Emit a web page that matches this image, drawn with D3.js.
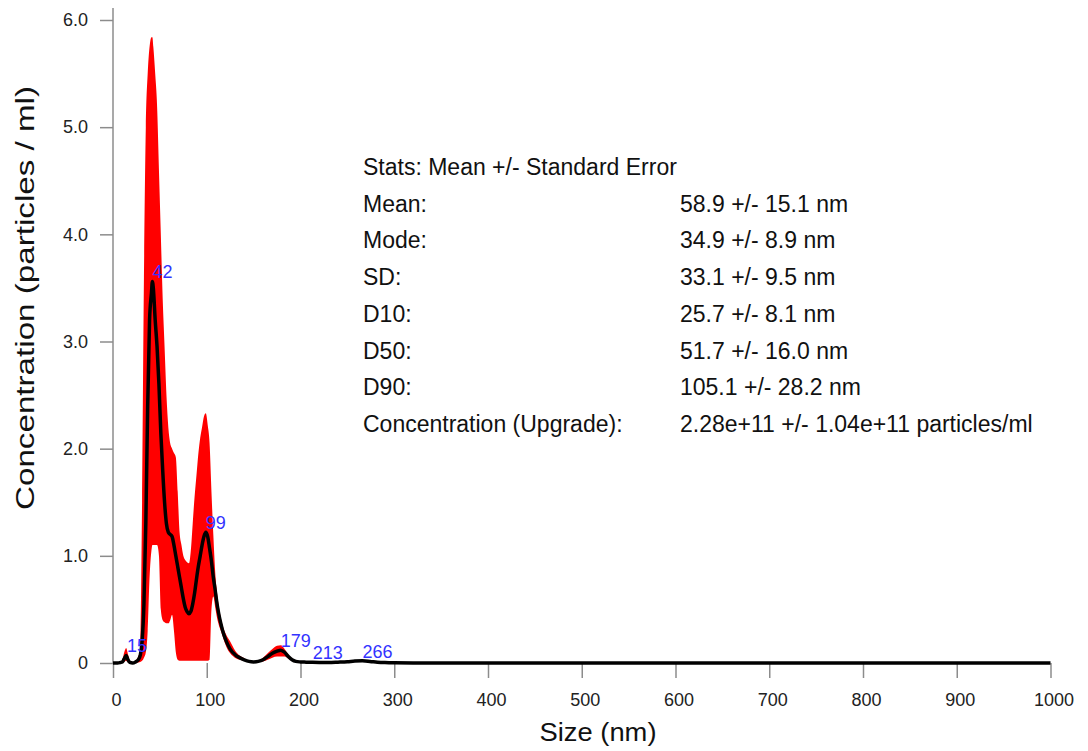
<!DOCTYPE html>
<html>
<head>
<meta charset="utf-8">
<style>
  body { margin: 0; background: #fff; }
  text { font-family: "Liberation Sans", Arial, Helvetica, sans-serif; }
</style>
</head>
<body>
<div id="chart"></div>
<script src="https://d3js.org/d3.v7.min.js"></script>
<script>
  // size bins (nm) and concentration
  const sizes = [
    0, 5, 8, 10, 12, 14, 16, 18, 21, 24,
    27, 29, 31, 33, 35, 37, 39, 41, 42, 43,
    45, 47, 49, 51, 53, 55, 57, 59, 61, 63,
    65, 67, 69, 71, 73, 75, 77, 79, 81, 83,
    85, 87, 89, 91, 93, 95, 97, 99, 101, 103,
    105, 107, 109, 111, 113, 115, 118, 121, 125, 130,
    135, 140, 145, 150, 155, 160, 165, 170, 175, 179,
    183, 187, 191, 195, 200, 206, 213, 220, 230, 240,
    250, 258, 266, 274, 282, 290, 300, 320, 400, 600,
    800, 1000
  ];
  const meanConc = [
    0, 0, 0.005, 0.01, 0.04, 0.07, 0.03, 0.005, 0, 0.01,
    0.03, 0.07, 0.2, 0.55, 1.3, 2.4, 3.2, 3.45, 3.56, 3.5,
    3.2, 2.95, 2.6, 2.15, 1.8, 1.5, 1.3, 1.22, 1.2, 1.18,
    1.1, 1.0, 0.9, 0.8, 0.7, 0.6, 0.52, 0.48, 0.46, 0.48,
    0.55, 0.65, 0.78, 0.9, 1.0, 1.1, 1.18, 1.22, 1.18, 1.07,
    0.95, 0.8, 0.68, 0.55, 0.45, 0.37, 0.27, 0.2, 0.13, 0.08,
    0.05, 0.03, 0.015, 0.01, 0.015, 0.03, 0.06, 0.09, 0.11, 0.12,
    0.1, 0.06, 0.03, 0.015, 0.01, 0.008, 0.006, 0.005, 0.005, 0.008,
    0.012, 0.018, 0.02, 0.015, 0.008, 0.004, 0.002, 0.001, 0, 0,
    0, 0
  ];
  const upperConc = [
    0, 0, 0.01, 0.03, 0.1, 0.14, 0.08, 0.02, 0.005, 0.02,
    0.06, 0.15, 1.5, 3.6, 5.0, 5.5, 5.75, 5.84, 5.84, 5.75,
    5.5, 5.2, 4.6, 4.0, 3.4, 2.95, 2.5, 2.2, 2.05, 2.0,
    1.96, 1.92, 1.6, 1.22, 1.1, 1.0, 0.96, 0.94, 0.93, 1.05,
    1.3, 1.55, 1.75, 1.95, 2.1, 2.2, 2.3, 2.33, 2.22, 2.05,
    1.6, 1.2, 0.85, 0.65, 0.52, 0.42, 0.32, 0.26, 0.2, 0.12,
    0.07, 0.045, 0.02, 0.012, 0.02, 0.05, 0.09, 0.13, 0.16, 0.165,
    0.13, 0.08, 0.04, 0.02, 0.012, 0.01, 0.008, 0.007, 0.007, 0.01,
    0.015, 0.022, 0.025, 0.018, 0.01, 0.005, 0.003, 0.001, 0, 0,
    0, 0
  ];
  const lowerConc = [
    0, 0, 0, 0, 0.01, 0.02, 0.005, 0, 0, 0,
    0.005, 0.01, 0.02, 0.05, 0.1, 0.3, 0.8, 1.05, 1.1, 1.1,
    1.1, 1.1, 1.0, 0.5, 0.4, 0.38, 0.37, 0.37, 0.4, 0.45,
    0.3, 0.1, 0.03, 0.02, 0.02, 0.02, 0.02, 0.02, 0.02, 0.02,
    0.02, 0.02, 0.02, 0.02, 0.02, 0.02, 0.02, 0.02, 0.02, 0.03,
    0.5, 0.62, 0.52, 0.42, 0.35, 0.3, 0.22, 0.15, 0.09, 0.05,
    0.03, 0.02, 0.01, 0.008, 0.01, 0.015, 0.03, 0.05, 0.06, 0.06,
    0.06, 0.04, 0.02, 0.01, 0.008, 0.006, 0.004, 0.003, 0.003, 0.006,
    0.009, 0.014, 0.015, 0.012, 0.006, 0.003, 0.001, 0, 0, 0,
    0, 0
  ];

  const peakSizes = [15, 42, 99, 179, 213, 266];

  const xTickValues = [0, 100, 200, 300, 400, 500, 600, 700, 800, 900, 1000];
  const yTickValues = [0, 1, 2, 3, 4, 5, 6];
  const yTickLabels = ["0", "1.0", "2.0", "3.0", "4.0", "5.0", "6.0"];

  const statNames = ["Mean:", "Mode:", "SD:", "D10:", "D50:", "D90:", "Concentration (Upgrade):"];
  const statValues = [
    "58.9 +/- 15.1 nm", "34.9 +/- 8.9 nm", "33.1 +/- 9.5 nm", "25.7 +/- 8.1 nm",
    "51.7 +/- 16.0 nm", "105.1 +/- 28.2 nm", "2.28e+11 +/- 1.04e+11 particles/ml"
  ];

  const W = 1088, H = 751;
  const plotLeft = 113, plotRight = 1050.5, plotTop = 20, plotBottom = 663;

  const svg = d3.select("#chart").append("svg")
    .attr("width", W)
    .attr("height", H);

  const x = d3.scaleLinear().domain([0, 1000]).range([plotLeft, plotRight]);
  const y = d3.scaleLinear().domain([0, 6]).range([plotBottom, plotTop]);

  const rows = sizes.map((s, i) => ({ s, m: meanConc[i], lo: lowerConc[i], hi: upperConc[i] }));

  // standard error band
  svg.append("path")
    .datum(rows)
    .attr("fill", "#ff0000")
    .attr("d", d3.area().curve(d3.curveMonotoneX)
      .x(d => x(d.s)).y0(d => y(d.lo)).y1(d => y(d.hi)));

  // axes
  const xAxis = svg.append("g")
    .attr("transform", `translate(0,${plotBottom})`)
    .call(d3.axisBottom(x).tickValues(xTickValues).tickSize(15).tickPadding(15).tickFormat(d3.format("d")));
  xAxis.select(".domain").remove();
  xAxis.selectAll("line").attr("stroke", "#8c8c8c").attr("stroke-width", 1.5);
  xAxis.selectAll("text").attr("font-size", 18).attr("fill", "#222").attr("dx", 3)
    .style("font-family", '"Liberation Sans", Arial, sans-serif');

  const yAxis = svg.append("g")
    .attr("transform", `translate(${plotLeft},0)`)
    .call(d3.axisLeft(y).tickValues(yTickValues).tickSize(13).tickPadding(12).tickFormat((d, i) => yTickLabels[i]));
  yAxis.select(".domain").remove();
  yAxis.selectAll("line").attr("stroke", "#8c8c8c").attr("stroke-width", 1.5);
  yAxis.selectAll("text").attr("font-size", 18).attr("fill", "#222")
    .style("font-family", '"Liberation Sans", Arial, sans-serif');

  svg.append("line")
    .attr("x1", plotLeft).attr("x2", plotLeft)
    .attr("y1", 8).attr("y2", plotBottom)
    .attr("stroke", "#8c8c8c").attr("stroke-width", 1.5);

  // mean line
  svg.append("path")
    .datum(rows)
    .attr("fill", "none")
    .attr("stroke", "#000")
    .attr("stroke-width", 3.5)
    .attr("stroke-linejoin", "round")
    .attr("d", d3.line().curve(d3.curveMonotoneX).x(d => x(d.s)).y(d => y(d.m)));

  // peak labels
  svg.append("g").selectAll("text")
    .data(peakSizes)
    .join("text")
    .attr("x", p => x(p))
    .attr("y", p => {
      const r = d3.least(rows, d => Math.abs(d.s - p));
      return y(r.m) - 3;
    })
    .attr("font-size", 18)
    .attr("fill", "#3333ff")
    .text(p => p);

  // axis titles
  svg.append("text")
    .attr("x", 598).attr("y", 741)
    .attr("text-anchor", "middle")
    .attr("font-size", 25)
    .attr("textLength", 117)
    .attr("lengthAdjust", "spacingAndGlyphs")
    .attr("fill", "#111")
    .text("Size (nm)");

  svg.append("text")
    .attr("transform", "translate(34,298) rotate(-90)")
    .attr("text-anchor", "middle")
    .attr("font-size", 25)
    .attr("textLength", 424)
    .attr("lengthAdjust", "spacingAndGlyphs")
    .attr("fill", "#111")
    .text("Concentration (particles / ml)");

  // stats block
  const stats = svg.append("g").attr("font-size", 23).attr("fill", "#111");
  stats.append("text").attr("x", 363).attr("y", 175).text("Stats: Mean +/- Standard Error");
  statNames.forEach((n, i) => {
    const yy = 175 + (i + 1) * 36.7;
    stats.append("text").attr("x", 363).attr("y", yy).text(n);
    stats.append("text").attr("x", 680).attr("y", yy).text(statValues[i]);
  });
</script>
</body>
</html>
